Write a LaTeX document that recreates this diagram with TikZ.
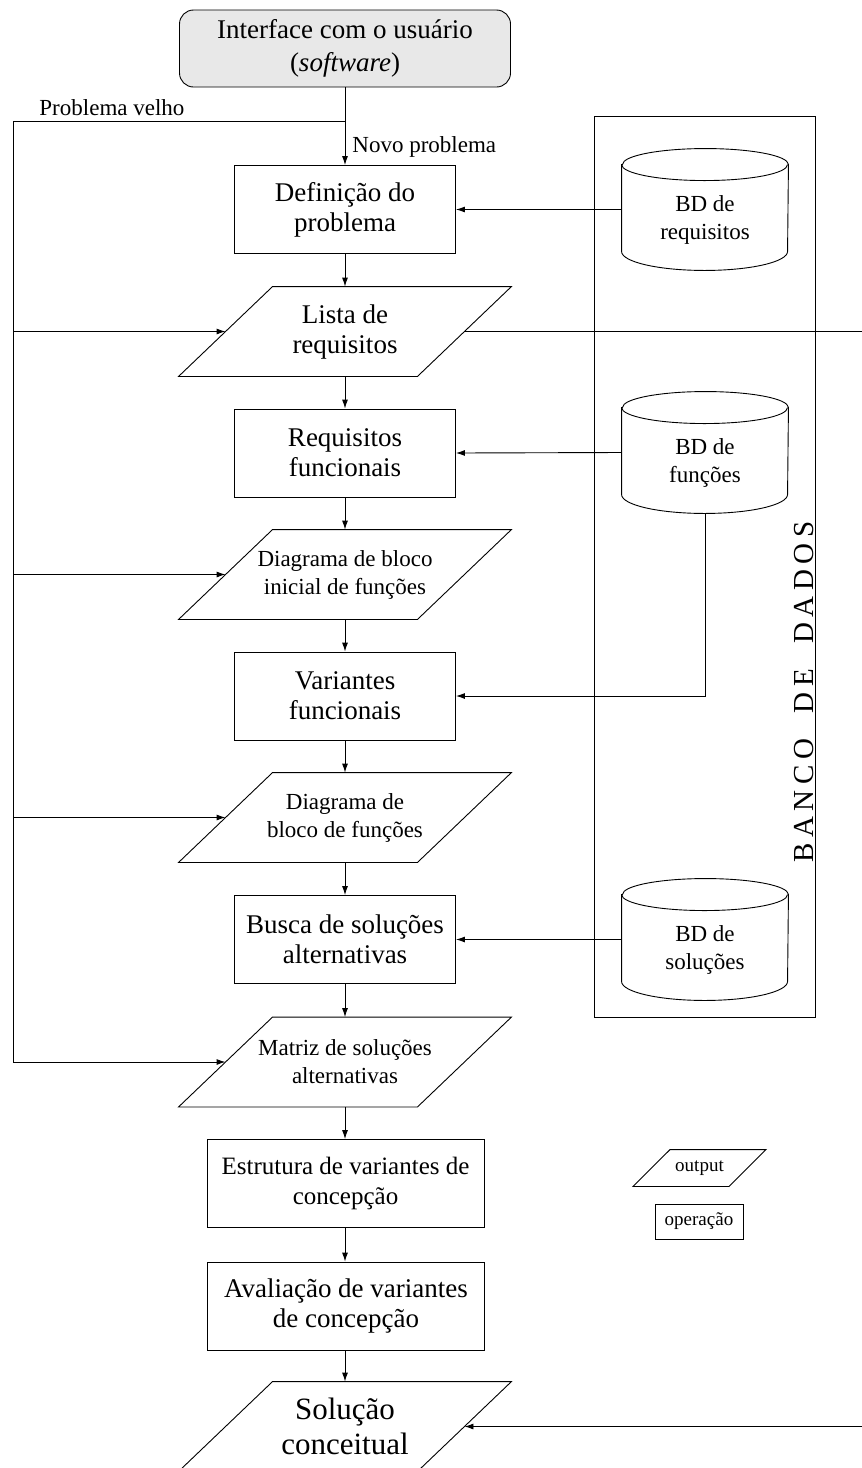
\documentclass[tikz,border=0pt]{standalone}
\usepackage{fontspec}
\setmainfont{Liberation Serif}
\usetikzlibrary{arrows.meta}
\begin{document}
\begin{tikzpicture}[x=1pt,y=1pt,
  line width=0.9pt,
  arr/.style={-{Latex[length=9pt,width=6pt]}},
  fbig/.style={font=\fontsize{27}{30}\selectfont},
  fmid/.style={font=\fontsize{23}{28}\selectfont},
  fsmall/.style={font=\fontsize{19}{22}\selectfont},
  stepbox/.style={draw, minimum width=221pt, minimum height=88pt, inner sep=0pt, align=center, fbig},
  widebox/.style={stepbox, minimum width=277pt},
  outbox/.style={minimum width=238pt, minimum height=89pt, inner sep=0pt, align=center, fbig},
  dbnode/.style={minimum width=166pt, minimum height=121pt, inner sep=0pt},
  dbtext/.style={fmid, align=center, yshift=-10pt},
]
\useasboundingbox (0,0) rectangle (862,-1468);

% user interface
\node[draw, rounded corners=14pt, fill=gray!18, minimum width=331pt, minimum height=77pt,
      inner sep=0pt, align=center, font=\fontsize{27}{33}\selectfont] (ui) at (345,-48.5)
      {Interface com o usuário\\(\textit{software})};

% main column
\node[stepbox] (defin) at (345,-209.5) {Definição do\\problema};
\node[outbox] (lista) at (345,-331.5) {Lista de\\requisitos};
\node[stepbox] (reqf) at (345,-453) {Requisitos\\funcionais};
\node[outbox, fmid] (diag1) at (345,-574.5) {Diagrama de bloco\\inicial de funções};
\node[stepbox] (varf) at (345,-696) {Variantes\\funcionais};
\node[outbox, fmid] (diag2) at (345,-817.5) {Diagrama de\\bloco de funções};
\node[stepbox] (busca) at (345,-939.5) {Busca de soluções\\alternativas};
\node[outbox, fmid] (matriz) at (345,-1062) {Matriz de soluções\\alternativas};
\node[widebox, font=\fontsize{25}{30}\selectfont] (estrut) at (345.5,-1183.5) {Estrutura de variantes de\\concepção};
\node[widebox] (aval) at (346,-1306) {Avaliação de variantes\\de concepção};
\node[outbox, font=\fontsize{31}{35}\selectfont] (sol) at (345,-1426.5) {Solução\\conceitual};

% output parallelograms
\foreach \p in {lista,diag1,diag2,matriz,sol}
  \draw ([xshift=-47pt]\p.south west) -- ([xshift=-47pt]\p.south east)
     -- ([xshift=47pt]\p.north east) -- ([xshift=47pt]\p.north west) -- cycle;

% database frame and cylinders
\node[draw, minimum width=221pt, minimum height=901pt, inner sep=0pt] (frame) at (704.5,-566.5) {};
\node[rotate=90, inner sep=0pt,
      font=\fontsize{29}{29}\selectfont\addfontfeatures{LetterSpace=19}] (bdlabel) at (804.5,-692) {BANCO\ \ DE\ \ DADOS};

\node[dbnode, label={[dbtext]center:{BD de\\requisitos}}] (bdreq) at (705,-209.5) {};
\node[dbnode, label={[dbtext]center:{BD de\\funções}}] (bdfun) at (705,-452.5) {};
\node[dbnode, label={[dbtext]center:{BD de\\soluções}}] (bdsol) at (705,-939.5) {};
\foreach \c in {bdreq,bdfun,bdsol} {
  \draw ([yshift=-16pt]\c.north west) -- ([yshift=19pt]\c.south west)
     arc[start angle=180, end angle=360, x radius=83pt, y radius=19pt]
     -- ([yshift=-16pt]\c.north east)
     arc[start angle=0, end angle=180, x radius=83pt, y radius=16pt] -- cycle;
  \draw ([yshift=-16pt]\c.north west) arc[start angle=180, end angle=360, x radius=83pt, y radius=16pt];
}

% legend
\node[minimum width=95pt, minimum height=36pt, inner sep=0pt, fsmall] (legout) at (699.5,-1168) {output};
\draw ([xshift=-18.5pt]legout.south west) -- ([xshift=-18.5pt]legout.south east)
   -- ([xshift=18.5pt]legout.north east) -- ([xshift=18.5pt]legout.north west) -- cycle;
\node[draw, minimum width=88pt, minimum height=35pt, inner sep=0pt, fsmall] (legop) at (699,-1221.5) {operação};

% flow labels
\node[fmid, anchor=west, inner sep=0pt] (lbold) at (39,-108) {Problema velho};
\node[fmid, anchor=west, inner sep=0pt] (lbnew) at (352,-147) {Novo problema};

% connectors
\coordinate (pv) at (345,-121);
\coordinate (lt) at (13,-121);
\coordinate (edgeR) at (862,0);

\draw[arr] (ui.south) -- (defin.north);
\draw[arr] (pv) -- (lt) |- (matriz.west);
\draw[arr] (lt |- lista.west) -- (lista.west);
\draw[arr] (lt |- diag1.west) -- (diag1.west);
\draw[arr] (lt |- diag2.west) -- (diag2.west);

\draw[arr] (defin.south) -- (lista.north);
\draw[arr] (lista.south) -- (reqf.north);
\draw[arr] (reqf.south) -- (diag1.north);
\draw[arr] (diag1.south) -- (varf.north);
\draw[arr] (varf.south) -- (diag2.north);
\draw[arr] (diag2.south) -- (busca.north);
\draw[arr] (busca.south) -- (matriz.north);
\draw[arr] (matriz.south) -- (estrut.north -| matriz.south);
\draw[arr] (estrut.south -| matriz.south) -- (aval.north -| matriz.south);
\draw[arr] (aval.south -| matriz.south) -- (sol.north);

\draw[arr] (bdreq.west) -- (defin.east);
\draw[arr] (bdfun.west) -- (reqf.east);
\draw[arr] (bdfun.south) |- (varf.east);
\draw[arr] (bdsol.west) -- (busca.east);

\draw (lista.east) -- (lista.east -| edgeR);
\draw[arr] (sol.east -| edgeR) -- (sol.east);
\end{tikzpicture}
\end{document}
